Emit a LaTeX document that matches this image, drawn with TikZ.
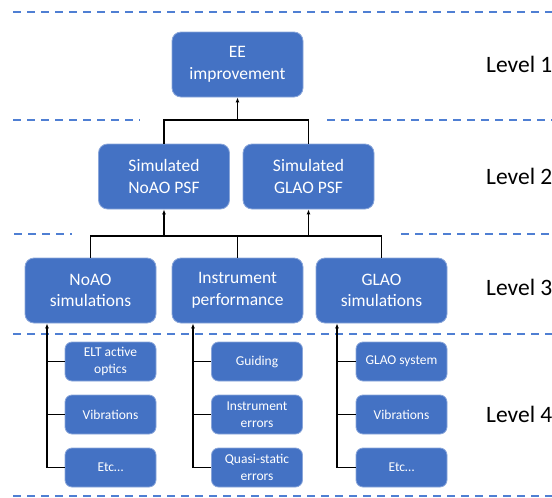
\documentclass[tikz,border=0pt]{standalone}
\usepackage{fontspec}
\setmainfont{Carlito}
\usetikzlibrary{arrows.meta}
\definecolor{boxblue}{HTML}{4472C4}
\definecolor{boxedge}{HTML}{8AA6DA}
\definecolor{sepblue}{HTML}{4F7FD3}

\begin{document}
\begin{tikzpicture}[x=1pt,y=-1pt,
	block/.style={draw=boxedge,line width=0.8pt,fill=boxblue,rounded corners=9pt,text=white,align=center,inner sep=0pt,minimum width=131pt,minimum height=65pt,font=\fontsize{17.5}{21.5}\selectfont},
	leaf/.style={block,minimum width=91pt,minimum height=39pt,rounded corners=7pt,font=\fontsize{13.5}{16.5}\selectfont},
	level/.style={anchor=west,inner sep=0pt,font=\fontsize{23.5}{28}\selectfont},
	sep/.style={draw=sepblue,line width=1.5pt,dash pattern=on 8pt off 6pt},
	link/.style={draw=black,line width=1.5pt},
	arr/.style={link,-{Latex[length=5pt,width=4pt]}}]
	\useasboundingbox (0,0) rectangle (552,498);

	%Separators between levels
	\draw [sep] (13,12) -- (552,12);
	\draw [sep] (13,120) -- (140,120);
	\draw [sep] (327,120) -- (552,120);
	\draw [sep] (14,234) -- (72,234);
	\draw [sep] (401,234) -- (552,234);
	\draw [sep] (13,334) -- (552,334);
	\draw [sep] (13,496) -- (552,496);

	%Level 1
	\node [block] (ee) at (237.5,64.5) {EE\\improvement};

	%Level 2
	\node [block] (nsf) at (164,176.5) {Simulated\\NoAO PSF};
	\node [block] (gsf) at (308.5,176.5) {Simulated\\GLAO PSF};

	%Level 3
	\node [block] (nsim) at (90.5,290.5) {NoAO\\simulations};
	\node [block] (inst) at (237.5,290.5) {Instrument\\performance};
	\node [block] (gsim) at (381.5,290.5) {GLAO\\simulations};

	%Level 4, NoAO column
	\node [leaf] (elt) at (110.5,361.5) {ELT active\\optics};
	\node [leaf] (nvib) at (110.5,414.5) {Vibrations};
	\node [leaf] (netc) at (110.5,467.5) {Etc\dots};
	%Level 4, instrument column
	\node [leaf] (guid) at (257,361.5) {Guiding};
	\node [leaf] (ierr) at (257,414.5) {Instrument\\errors};
	\node [leaf] (qerr) at (257,467.5) {Quasi-static\\errors};
	%Level 4, GLAO column
	\node [leaf] (gsys) at (401.5,361.5) {GLAO system};
	\node [leaf] (gvib) at (401.5,414.5) {Vibrations};
	\node [leaf] (getc) at (401.5,467.5) {Etc\dots};

	%Level labels
	\node [level] (l1) at (486,64.5) {Level 1};
	\node [level] (l2) at (486,176.5) {Level 2};
	\node [level] (l3) at (486,287) {Level 3};
	\node [level] (l4) at (486,414.5) {Level 4};

	%Level 2 to level 1
	\coordinate (j1) at (237.5,120);
	\draw [link] (nsf.north) |- (j1) -| (gsf.north);
	\draw [arr] (j1) -- (ee.south);

	%Level 3 to level 2
	\coordinate (j2) at (164,236);
	\coordinate (j3) at (308.5,236);
	\draw [link] (nsim.north) |- (j2) -- (j3) -| (gsim.north);
	\draw [link] (inst.north) -- (inst.north |- j2);
	\draw [arr] (j2) -- (nsf.south);
	\draw [arr] (j3) -- (gsf.south);

	%Level 4 to level 3
	\coordinate (c1) at (47,467.5);
	\coordinate (c2) at (193,467.5);
	\coordinate (c3) at (337,467.5);
	\draw [arr] (c1) -- (c1 |- nsim.south);
	\draw [arr] (c2) -- (c2 |- inst.south);
	\draw [arr] (c3) -- (c3 |- gsim.south);
	\draw [link] (c1 |- elt.west) -- (elt.west);
	\draw [link] (c1 |- nvib.west) -- (nvib.west);
	\draw [link] (c1) -- (netc.west);
	\draw [link] (c2 |- guid.west) -- (guid.west);
	\draw [link] (c2 |- ierr.west) -- (ierr.west);
	\draw [link] (c2) -- (qerr.west);
	\draw [link] (c3 |- gsys.west) -- (gsys.west);
	\draw [link] (c3 |- gvib.west) -- (gvib.west);
	\draw [link] (c3) -- (getc.west);
\end{tikzpicture}
\end{document}
